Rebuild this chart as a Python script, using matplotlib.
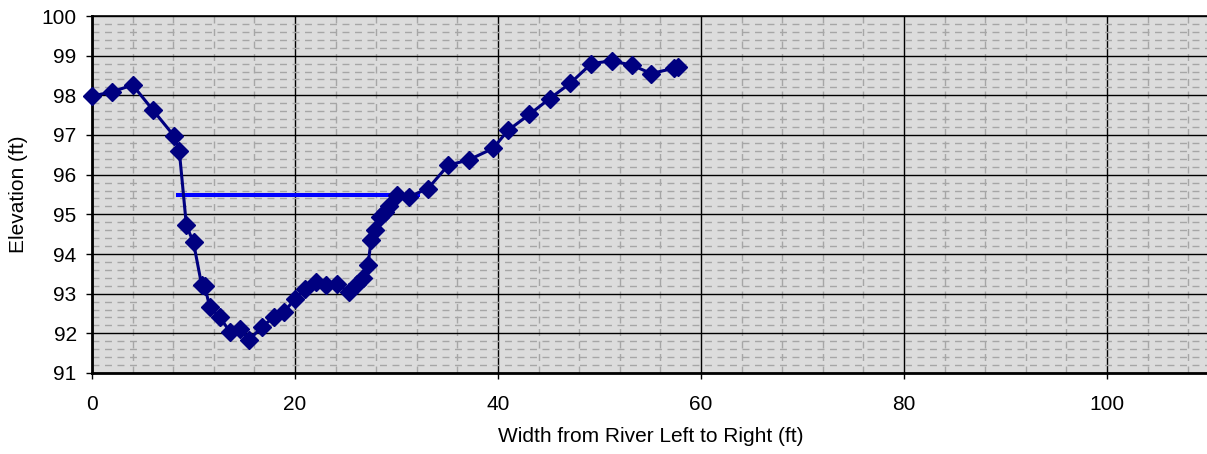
import matplotlib
matplotlib.use("Agg")
import matplotlib.pyplot as plt
from matplotlib.ticker import MultipleLocator

plt.rcParams["font.family"] = ["Liberation Sans", "DejaVu Sans"]

# cross-section survey points
width_ft = [0.0, 2.0, 4.0, 6.0, 8.1, 8.6, 9.3, 10.0, 10.8, 11.1, 11.6, 12.6, 13.6,
            14.6, 15.5, 16.7, 17.9, 18.9, 20.0, 21.0, 22.1, 23.1, 24.1, 25.3,
            26.1, 26.7, 27.2, 27.5, 27.9, 28.4, 28.9, 29.3, 30.0, 31.2, 33.1,
            35.1, 37.1, 39.5, 41.0, 43.1, 45.1, 47.1, 49.2, 51.2, 53.2, 55.1,
            57.3, 57.7]
elev_ft = [97.98, 98.09, 98.26, 97.63, 96.97, 96.6, 94.72, 94.29, 93.22, 93.2,
           92.66, 92.41, 92.03, 92.11, 91.84, 92.15, 92.41, 92.53, 92.87, 93.12,
           93.29, 93.21, 93.25, 93.04, 93.25, 93.4, 93.73, 94.36, 94.6, 94.93,
           95.05, 95.2, 95.5, 95.44, 95.65, 96.24, 96.37, 96.66, 97.12, 97.52,
           97.92, 98.3, 98.8, 98.87, 98.76, 98.55, 98.68, 98.72]

# water surface
water_x = [8.3, 32.3]
water_y = [95.48, 95.48]

fig = plt.figure(figsize=(12.07, 4.54), dpi=100)
ax = fig.add_axes([92 / 1207, 1 - 373 / 454, 1116.5 / 1207, 357 / 454])
ax.set_facecolor("#dcdcdc")

ax.plot(water_x, water_y, color="#0000ff", lw=2.9, zorder=3, solid_capstyle="butt")
ax.plot(width_ft, elev_ft, color="#000080", lw=2.2, marker="D", ms=9.5,
        markeredgecolor="#000080", zorder=4, clip_on=False)

ax.set_xlim(0, 110)
ax.set_ylim(91, 100)
ax.xaxis.set_major_locator(MultipleLocator(20))
ax.xaxis.set_minor_locator(MultipleLocator(4))
ax.yaxis.set_major_locator(MultipleLocator(1))
ax.yaxis.set_minor_locator(MultipleLocator(0.2))

ax.grid(which="minor", color="#a6a6a6", lw=1, ls=(0, (5, 4)))
ax.grid(which="major", color="black", lw=1)
ax.set_axisbelow(True)

for side in ["left", "bottom"]:
    ax.spines[side].set_linewidth(2)
ax.spines["top"].set_linewidth(1.2)
ax.spines["right"].set_visible(False)

ax.tick_params(which="major", direction="out", length=4.5, width=1, labelsize=15)
ax.tick_params(which="minor", length=0)
ax.tick_params(axis="y", pad=6.5)
ax.tick_params(axis="x", pad=11)

ax.set_xlabel("Width from River Left to Right (ft)", fontsize=15, labelpad=10)
ax.set_ylabel("Elevation (ft)", fontsize=15, labelpad=10)

fig.savefig("out.png", dpi=100)
